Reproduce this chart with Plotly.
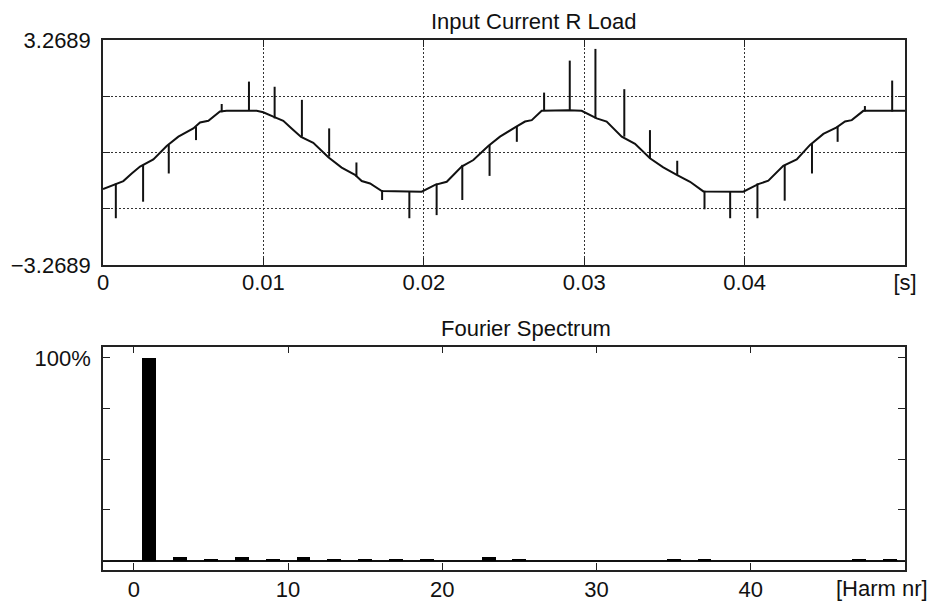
import plotly.graph_objects as go
from plotly.subplots import make_subplots

# ---------------- data ----------------
curve_t = [0.0000, 0.00075, 0.00127, 0.00179, 0.00231, 0.00314, 0.00397, 0.00470, 0.00563, 0.00605,
           0.00657, 0.00729, 0.00771, 0.00958, 0.00999, 0.01062, 0.01124, 0.01176, 0.01235, 0.01311,
           0.01405, 0.01488, 0.01571, 0.01613, 0.01665, 0.01738, 0.01987, 0.02070, 0.02143, 0.02236,
           0.02309, 0.02402, 0.02475, 0.02569, 0.02631, 0.02673, 0.02735, 0.02901, 0.02984, 0.03078,
           0.03140, 0.03234, 0.03317, 0.03410, 0.03493, 0.03577, 0.03660, 0.03743, 0.03992, 0.04085,
           0.04148, 0.04241, 0.04325, 0.04408, 0.04491, 0.04574, 0.04626, 0.04668, 0.04740, 0.05000]
curve_y = [-1.06, -0.92, -0.83, -0.61, -0.41, -0.20, 0.19, 0.46, 0.70, 0.87,
           0.92, 1.19, 1.21, 1.21, 1.17, 1.04, 0.92, 0.70, 0.45, 0.28,
           -0.14, -0.44, -0.65, -0.83, -0.90, -1.12, -1.14, -0.94, -0.85, -0.41,
           -0.22, 0.19, 0.46, 0.73, 0.90, 0.94, 1.21, 1.23, 1.21, 0.99,
           0.90, 0.46, 0.25, -0.17, -0.43, -0.65, -0.85, -1.13, -1.14, -0.92,
           -0.82, -0.39, -0.20, 0.22, 0.54, 0.73, 0.90, 0.94, 1.21, 1.21]

spike_t = [0.0008, 0.0025, 0.0041, 0.0058, 0.0074, 0.0091, 0.0107, 0.0124, 0.0141, 0.0158,
           0.0174, 0.0191, 0.0208, 0.0224, 0.0241, 0.0258, 0.0275, 0.0291, 0.0307, 0.0325,
           0.0341, 0.0358, 0.0375, 0.0391, 0.0408, 0.0425, 0.0442, 0.0458, 0.0475, 0.0492]
spike_lo = [-1.91, -1.43, -0.61, 0.36, 1.17, 1.21, 0.99, 0.46, -0.12, -0.70,
            -1.38, -1.91, -1.82, -1.38, -0.68, 0.31, 1.21, 1.23, 0.99, 0.46,
            -0.17, -0.65, -1.65, -1.91, -1.91, -1.40, -0.61, 0.31, 1.19, 1.19]
spike_hi = [-0.90, -0.36, 0.22, 0.75, 1.41, 2.06, 1.91, 1.53, 0.70, -0.29,
            -1.09, -1.14, -0.90, -0.36, 0.22, 0.75, 1.74, 2.67, 3.01, 1.84,
            0.65, -0.24, -1.11, -1.14, -0.90, -0.36, 0.27, 0.77, 1.35, 2.09]

harm_nr = [1, 3, 5, 7, 9, 11, 13, 15, 17, 19, 23, 25, 35, 37, 47, 49]
harm_pct = [100, 1.8, 1.0, 1.8, 1.0, 1.8, 1.2, 1.2, 0.8, 0.8, 1.8, 1.2, 1.2, 1.2, 1.2, 1.2]

YMAX = 3.2689
top_xticks = [0, 0.01, 0.02, 0.03, 0.04, 0.05]
top_xtext = ["0", "0.01", "0.02", "0.03", "0.04", "[s]"]
top_yticks = [-YMAX, -YMAX / 2, 0, YMAX / 2, YMAX]
top_ytext = ["\u22123.2689", "", "", "", "3.2689"]
bot_xticks = [0, 10, 20, 30, 40]
bot_yticks = [0, 25, 50, 75, 100]
bot_ytext = ["", "", "", "", "100%"]

# ---------------- figure ----------------
FONT = "Liberation Sans, Arial, sans-serif"
INK = "#111111"
FS = 22

fig = make_subplots(rows=2, cols=1, vertical_spacing=0.0)

sx, sy = [], []
for t, lo, hi in zip(spike_t, spike_lo, spike_hi):
    sx += [t, t, None]
    sy += [lo, hi, None]

fig.add_trace(go.Scatter(x=curve_t, y=curve_y, mode="lines",
                         line=dict(color=INK, width=2), showlegend=False), row=1, col=1)
fig.add_trace(go.Scatter(x=sx, y=sy, mode="lines",
                         line=dict(color=INK, width=2), showlegend=False), row=1, col=1)
fig.add_trace(go.Bar(x=harm_nr, y=harm_pct, width=0.9,
                     marker=dict(color="black", line=dict(width=0)),
                     showlegend=False), row=2, col=1)

axis_common = dict(showline=True, linecolor="#222222", linewidth=1.5, mirror="ticks",
                   ticks="inside", ticklen=7, tickwidth=1.2, tickcolor="#222222",
                   automargin=False,
                   tickfont=dict(family=FONT, size=FS, color=INK))

fig.update_layout(
    xaxis=dict(range=[0, 0.05], tickvals=top_xticks, ticktext=top_xtext, domain=[0, 1],
               showgrid=True, gridcolor="#333333", gridwidth=1, griddash="2px,2px",
               zeroline=False, ticklabelstandoff=-3, **axis_common),
    yaxis=dict(range=[-YMAX, YMAX], tickvals=top_yticks, ticktext=top_ytext,
               domain=[0.5755, 1.0],
               showgrid=True, gridcolor="#333333", gridwidth=1, griddash="2px,2px",
               zeroline=False, ticklabelstandoff=6, **axis_common),
    xaxis2=dict(range=[-2, 50], tickvals=bot_xticks, showgrid=False, zeroline=False,
                domain=[0, 1], ticklabelstandoff=-1, **axis_common),
    yaxis2=dict(range=[-4.6, 105.5], tickvals=bot_yticks, ticktext=bot_ytext,
                domain=[0.0, 0.4213], showgrid=False,
                zeroline=True, zerolinecolor="#111111", zerolinewidth=1.5,
                ticklabelstandoff=6, **axis_common),
    width=935, height=601,
    margin=dict(l=103, r=30, t=40, b=31, autoexpand=False),
    paper_bgcolor="white", plot_bgcolor="white",
    font=dict(family=FONT, size=FS, color=INK),
    bargap=0,
)

fig.add_annotation(text="Input Current R Load", xref="paper", yref="paper",
                   x=0.5374, y=1.0358, xanchor="center", yanchor="middle",
                   showarrow=False, font=dict(family=FONT, size=FS, color=INK))
fig.add_annotation(text="Fourier Spectrum", xref="paper", yref="paper",
                   x=0.5274, y=0.4566, xanchor="center", yanchor="middle",
                   showarrow=False, font=dict(family=FONT, size=FS, color=INK))
fig.add_annotation(text="[Harm nr]", xref="paper", yref="paper",
                   x=1.0312, y=-0.034, xanchor="right", yanchor="middle",
                   showarrow=False, font=dict(family=FONT, size=FS, color=INK))

fig.write_html("out.html")
